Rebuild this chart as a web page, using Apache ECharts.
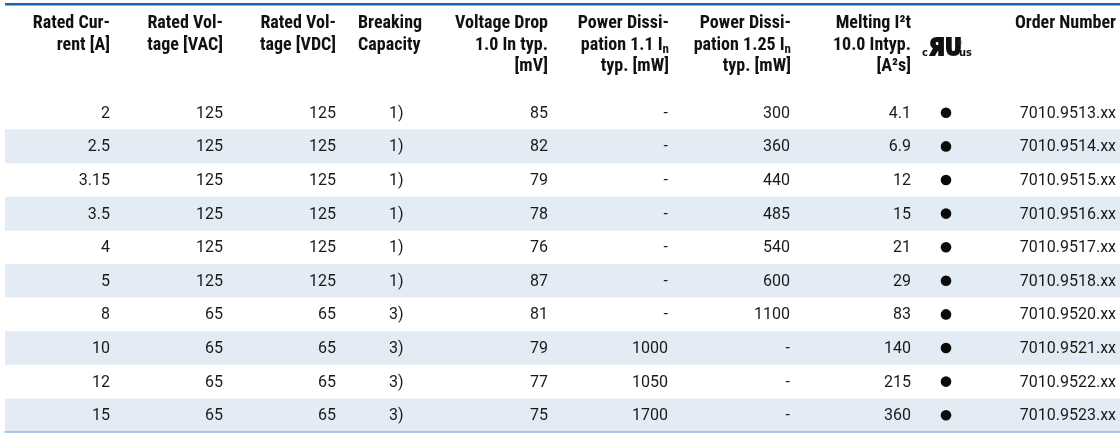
<!DOCTYPE html>
<html>
<head>
<meta charset="utf-8">
<script src="https://cdn.jsdelivr.net/npm/echarts@6/dist/echarts.min.js"></script>
<style>
html,body{margin:0;padding:0;background:#fff;}
#chart{width:1120px;height:433px;}
</style>
</head>
<body>
<div id="chart"></div>
<script>
// ---- data ----
const ratedCurrent = ['2', '2.5', '3.15', '3.5', '4', '5', '8', '10', '12', '15'];
const ratedVAC = ['125', '125', '125', '125', '125', '125', '65', '65', '65', '65'];
const ratedVDC = ['125', '125', '125', '125', '125', '125', '65', '65', '65', '65'];
const breaking = ['1)', '1)', '1)', '1)', '1)', '1)', '3)', '3)', '3)', '3)'];
const voltageDrop = ['85', '82', '79', '78', '76', '87', '81', '79', '77', '75'];
const powerDiss11 = ['-', '-', '-', '-', '-', '-', '-', '1000', '1050', '1700'];
const powerDiss125 = ['300', '360', '440', '485', '540', '600', '1100', '-', '-', '-'];
const meltingI2t = ['4.1', '6.9', '12', '15', '21', '29', '83', '140', '215', '360'];
const ulListed = [true, true, true, true, true, true, true, true, true, true];
const orderNumber = ['7010.9513.xx', '7010.9514.xx', '7010.9515.xx', '7010.9516.xx', '7010.9517.xx',
  '7010.9518.xx', '7010.9520.xx', '7010.9521.xx', '7010.9522.xx', '7010.9523.xx'];
const headers = [
  'Rated Cur-\nrent [A]',
  'Rated Vol-\ntage [VAC]',
  'Rated Vol-\ntage [VDC]',
  'Breaking\nCapacity',
  'Voltage Drop\n1.0 In typ.\n[mV]',
  'Power Dissi-\npation 1.1 I{s|n}\ntyp. [mW]',
  'Power Dissi-\npation 1.25 I{s|n}\ntyp. [mW]',
  'Melting I²t\n10.0 Intyp.\n[A²s]',
  '',
  'Order Number'
];

// ---- layout (page x of each column anchor) ----
const columns = [
  { values: ratedCurrent, x: 110, align: 'right', hx: 110, halign: 'right' },
  { values: ratedVAC, x: 223, align: 'right', hx: 223, halign: 'right' },
  { values: ratedVDC, x: 336, align: 'right', hx: 336, halign: 'right' },
  { values: breaking, x: 389, align: 'left', hx: 358, halign: 'left' },
  { values: voltageDrop, x: 548, align: 'right', hx: 548, halign: 'right' },
  { values: powerDiss11, x: 668, align: 'right', hx: 669, halign: 'right' },
  { values: powerDiss125, x: 790, align: 'right', hx: 791, halign: 'right' },
  { values: meltingI2t, x: 911, align: 'right', hx: 911, halign: 'right' },
  { values: null, x: 946, align: 'center', hx: 946, halign: 'center' },
  { values: orderNumber, x: 1116, align: 'right', hx: 1116, halign: 'right' }
];

const HEAD_FONT = '"Liberation Sans Narrow", "Roboto Condensed", "Liberation Sans", Arial, sans-serif';
const DATA_FONT = 'Roboto, "Liberation Sans", Arial, sans-serif';

const chart = echarts.init(document.getElementById('chart'), null, { renderer: 'canvas' });

const headerGraphics = headers.map((h, i) => ({
  type: 'text',
  x: columns[i].hx,
  y: 13,
  silent: true,
  style: {
    text: h,
    align: columns[i].halign,
    verticalAlign: 'top',
    fontFamily: HEAD_FONT,
    fontWeight: 'bold',
    fontSize: 18,
    lineHeight: 21.5,
    fill: '#111',
    rich: {
      s: { fontFamily: HEAD_FONT, fontWeight: 'bold', fontSize: 13, lineHeight: 13, verticalAlign: 'bottom', fill: '#111' }
    }
  }
}));

const ulLogo = {
  type: 'group',
  x: 922,
  y: 40,
  silent: true,
  children: [
    { type: 'text', x: 0, y: 19, style: { text: 'c', fontFamily: '"DejaVu Sans Condensed", "DejaVu Sans"', fontWeight: 'bold', fontSize: 11, fill: '#111', verticalAlign: 'bottom' } },
    { type: 'text', x: 7, y: 21, style: { text: 'ЯU', fontFamily: '"DejaVu Sans Condensed", "DejaVu Sans"', fontWeight: 'bold', fontSize: 23, fill: '#111', stroke: '#111', lineWidth: 1.8, verticalAlign: 'bottom' } },
    { type: 'text', x: 37, y: 19, style: { text: 'us', fontFamily: '"DejaVu Sans Condensed", "DejaVu Sans"', fontWeight: 'bold', fontSize: 11, fill: '#111', verticalAlign: 'bottom' } },
    { type: 'text', x: 35, y: 0, style: { text: '®', fontFamily: '"DejaVu Sans"', fontSize: 6, fill: '#333', verticalAlign: 'top' } }
  ]
};

const option = {
  animation: false,
  backgroundColor: '#fff',
  grid: { left: 5, right: 0, top: 96, height: 336, containLabel: false },
  xAxis: {
    type: 'value', min: 5, max: 1120,
    axisLine: { show: true, onZero: false, lineStyle: { color: '#8dbbe2', width: 1.5 } },
    axisTick: { show: false }, axisLabel: { show: false }, splitLine: { show: false }
  },
  yAxis: {
    type: 'category', inverse: true, data: ratedCurrent,
    axisLine: { show: false }, axisTick: { show: false }, axisLabel: { show: false },
    splitLine: { show: false },
    splitArea: { show: true, areaStyle: { color: ['rgba(255,255,255,0)', '#e3ebf5'] } }
  },
  graphic: [
    { type: 'rect', shape: { x: 5, y: 3, width: 1115, height: 2.5 }, style: { fill: '#1b65b0' }, silent: true },
    ...headerGraphics,
    ulLogo
  ],
  series: [{
    type: 'custom',
    coordinateSystem: 'cartesian2d',
    encode: { x: 0, y: 1 },
    data: ratedCurrent.map((c, i) => [5, i]),
    renderItem: function (params, api) {
      const r = api.value(1);
      const children = [];
      columns.forEach((col) => {
        const p = api.coord([col.x, r]);
        if (col.values) {
          children.push({
            type: 'text', x: p[0], y: p[1] + 1,
            style: { text: col.values[r], align: col.align, verticalAlign: 'middle', fontFamily: DATA_FONT, fontSize: 16, fill: '#1a1a1a' }
          });
        } else if (ulListed[r]) {
          children.push({ type: 'circle', shape: { cx: p[0], cy: p[1], r: 5.3 }, style: { fill: '#0a0a0a' } });
        }
      });
      return { type: 'group', children };
    }
  }]
};

chart.setOption(option);
</script>
</body>
</html>
